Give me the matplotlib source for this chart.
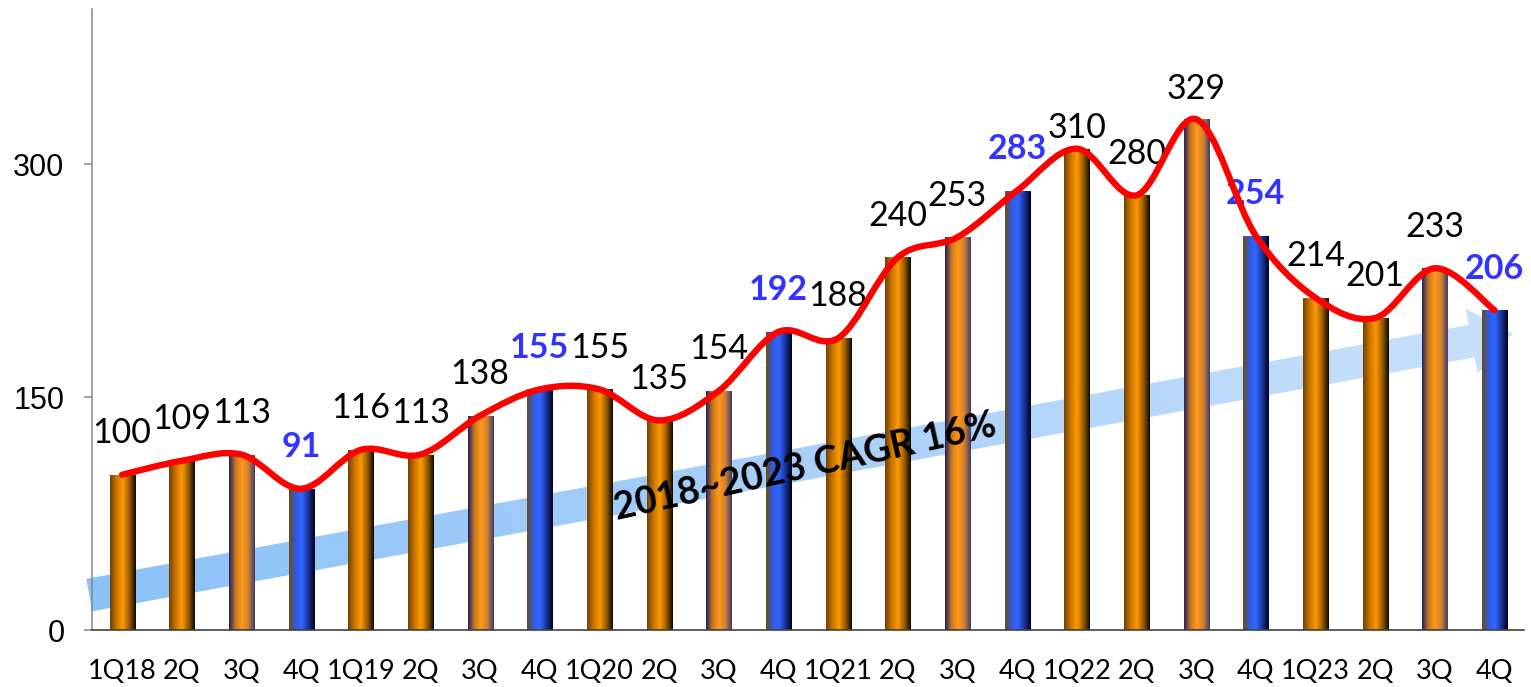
import numpy as np
import matplotlib
matplotlib.use('Agg')
import matplotlib.pyplot as plt
from matplotlib.colors import LinearSegmentedColormap
from matplotlib.path import Path
from matplotlib.patches import PathPatch, Polygon

# ---- data ----
quarters = ['1Q18', '2Q', '3Q', '4Q', '1Q19', '2Q', '3Q', '4Q',
            '1Q20', '2Q', '3Q', '4Q', '1Q21', '2Q', '3Q', '4Q',
            '1Q22', '2Q', '3Q', '4Q', '1Q23', '2Q', '3Q', '4Q']
values = [100, 109, 113, 91, 116, 113, 138, 155,
          155, 135, 154, 192, 188, 240, 253, 283,
          310, 280, 329, 254, 214, 201, 233, 206]
yticks = [0, 150, 300]
cagr_text = '2018~2023 CAGR 16%'

# ---- style ----
W, H = 1531, 687
LBL_FONT = 'Lato'
BLUE_TXT = '#3333FF'
label_lift = [30] * len(values)   # points above the bar top
label_lift[16] = 15
label_lift[18] = 22

cm_orange = LinearSegmentedColormap.from_list('o', ['#6E4108', '#C87400', '#FF9900', '#9A5C00', '#0D0800'])
cm_third = LinearSegmentedColormap.from_list('t', ['#1F2060', '#C8781E', '#FF9A1A', '#D08030', '#3A3A70'])
cm_fourth = LinearSegmentedColormap.from_list('f', ['#6E4A12', '#2F5BE0', '#3366FF', '#1A3499', '#00001A'])
cm_arrow = LinearSegmentedColormap.from_list('a', ['#8CC2F8', '#A9D0F9', '#C8E1FB'])


def bar_cmap(i):
    q = i % 4
    if q == 3:
        return cm_fourth
    if q == 2:
        return cm_third
    return cm_orange


def smooth_path(px, py):
    # excel like smoothed line, cubic bezier through every point
    pts = np.column_stack([px, py]).astype(float)
    ext = np.vstack([pts[0], pts, pts[-1]])
    verts = [pts[0]]
    codes = [Path.MOVETO]
    for i in range(len(pts) - 1):
        p0, p1, p2, p3 = ext[i], ext[i + 1], ext[i + 2], ext[i + 3]
        verts += [p1 + (p2 - p0) / 6., p2 - (p3 - p1) / 6., p2]
        codes += [Path.CURVE4] * 3
    return Path(verts, codes)


fig = plt.figure(figsize=(W / 100, H / 100), dpi=100)
fig.patch.set_facecolor('white')

ax_bg = fig.add_axes([0, 0, 1, 1], zorder=0)
ax_bg.set_xlim(0, W)
ax_bg.set_ylim(0, H)
ax_bg.axis('off')

ax = fig.add_axes([92.2 / W, 57 / H, (1524.3 - 92.2) / W, 621 / H], zorder=1)
ax.set_facecolor('none')

x = np.arange(len(values))
bars = ax.bar(x, values, width=0.42, color='none', edgecolor='none', zorder=2)
grad = np.linspace(0, 1, 128).reshape(1, -1)
for i, b in enumerate(bars):
    im = ax.imshow(grad, cmap=bar_cmap(i), aspect='auto', interpolation='bilinear',
                   extent=(b.get_x(), b.get_x() + b.get_width(), 0, b.get_height()), zorder=2)
    im.set_clip_path(b)

ax.set_xlim(-0.5, len(values) - 0.5)
ax.set_ylim(0, 400)

# smoothed red line
line = PathPatch(smooth_path(x, values), fill=False, edgecolor='#FF0000', lw=4.6,
                 capstyle='round', joinstyle='round', zorder=5)
ax.add_patch(line)

# value labels
for i, v in enumerate(values):
    hi = (i % 4 == 3)
    ax.annotate(str(v), (i, v), xytext=(0, label_lift[i]), textcoords='offset points',
                ha='center', va='center', fontsize=24.5, family=LBL_FONT,
                fontweight='bold' if hi else 'normal',
                color=BLUE_TXT if hi else 'black', zorder=4)

# trend arrow (behind the bars)
tail = ax.transData.transform((-0.55, 22.5))
tip = ax.transData.transform((23.31, 191))
u = (tip - tail) / np.hypot(*(tip - tail))
n = np.array([-u[1], u[0]])
shaft_w, head_w, head_l = 33, 66, 42
base = tip - u * head_l
poly_pts = [tail + n * shaft_w / 2, base + n * shaft_w / 2, base + n * head_w / 2, tip,
            base - n * head_w / 2, base - n * shaft_w / 2, tail - n * shaft_w / 2]
arrow = Polygon(poly_pts, closed=True, facecolor='none', edgecolor='none')
ax_bg.add_patch(arrow)
pts = np.array(poly_pts)
x0, x1 = pts[:, 0].min(), pts[:, 0].max()
y0, y1 = pts[:, 1].min(), pts[:, 1].max()
gx, gy = np.meshgrid(np.linspace(x0, x1, 400), np.linspace(y1, y0, 100))
t = ((gx - tail[0]) * u[0] + (gy - tail[1]) * u[1]) / np.hypot(*(tip - tail))
aim = ax_bg.imshow(np.clip(t, 0, 1), cmap=cm_arrow, extent=(x0, x1, y0, y1),
                   aspect='auto', interpolation='bilinear')
aim.set_clip_path(arrow)
ax_bg.set_xlim(0, W)
ax_bg.set_ylim(0, H)

ax.text(11.45, 105, cagr_text, rotation=12.5, rotation_mode='anchor', ha='center', va='center',
        fontsize=27, fontweight='bold', family=LBL_FONT, color='black', zorder=6)

# axes cosmetics
for s in ['top', 'right']:
    ax.spines[s].set_visible(False)
ax.spines['left'].set_color('#868686')
ax.spines['left'].set_linewidth(1.1)
ax.spines['bottom'].set_color('#404040')
ax.spines['bottom'].set_linewidth(1.2)
ax.spines['bottom'].set_zorder(3)

ax.set_yticks(yticks)
ax.set_yticklabels([str(v) for v in yticks], family='Liberation Sans', fontsize=22)
ax.tick_params(axis='y', direction='out', length=6, width=1.1, color='#868686', pad=14)
ax.set_xticks(x)
ax.set_xticklabels(quarters, family=LBL_FONT, fontsize=19.5)
ax.tick_params(axis='x', length=0, pad=21)

fig.savefig('out.png', dpi=100)
